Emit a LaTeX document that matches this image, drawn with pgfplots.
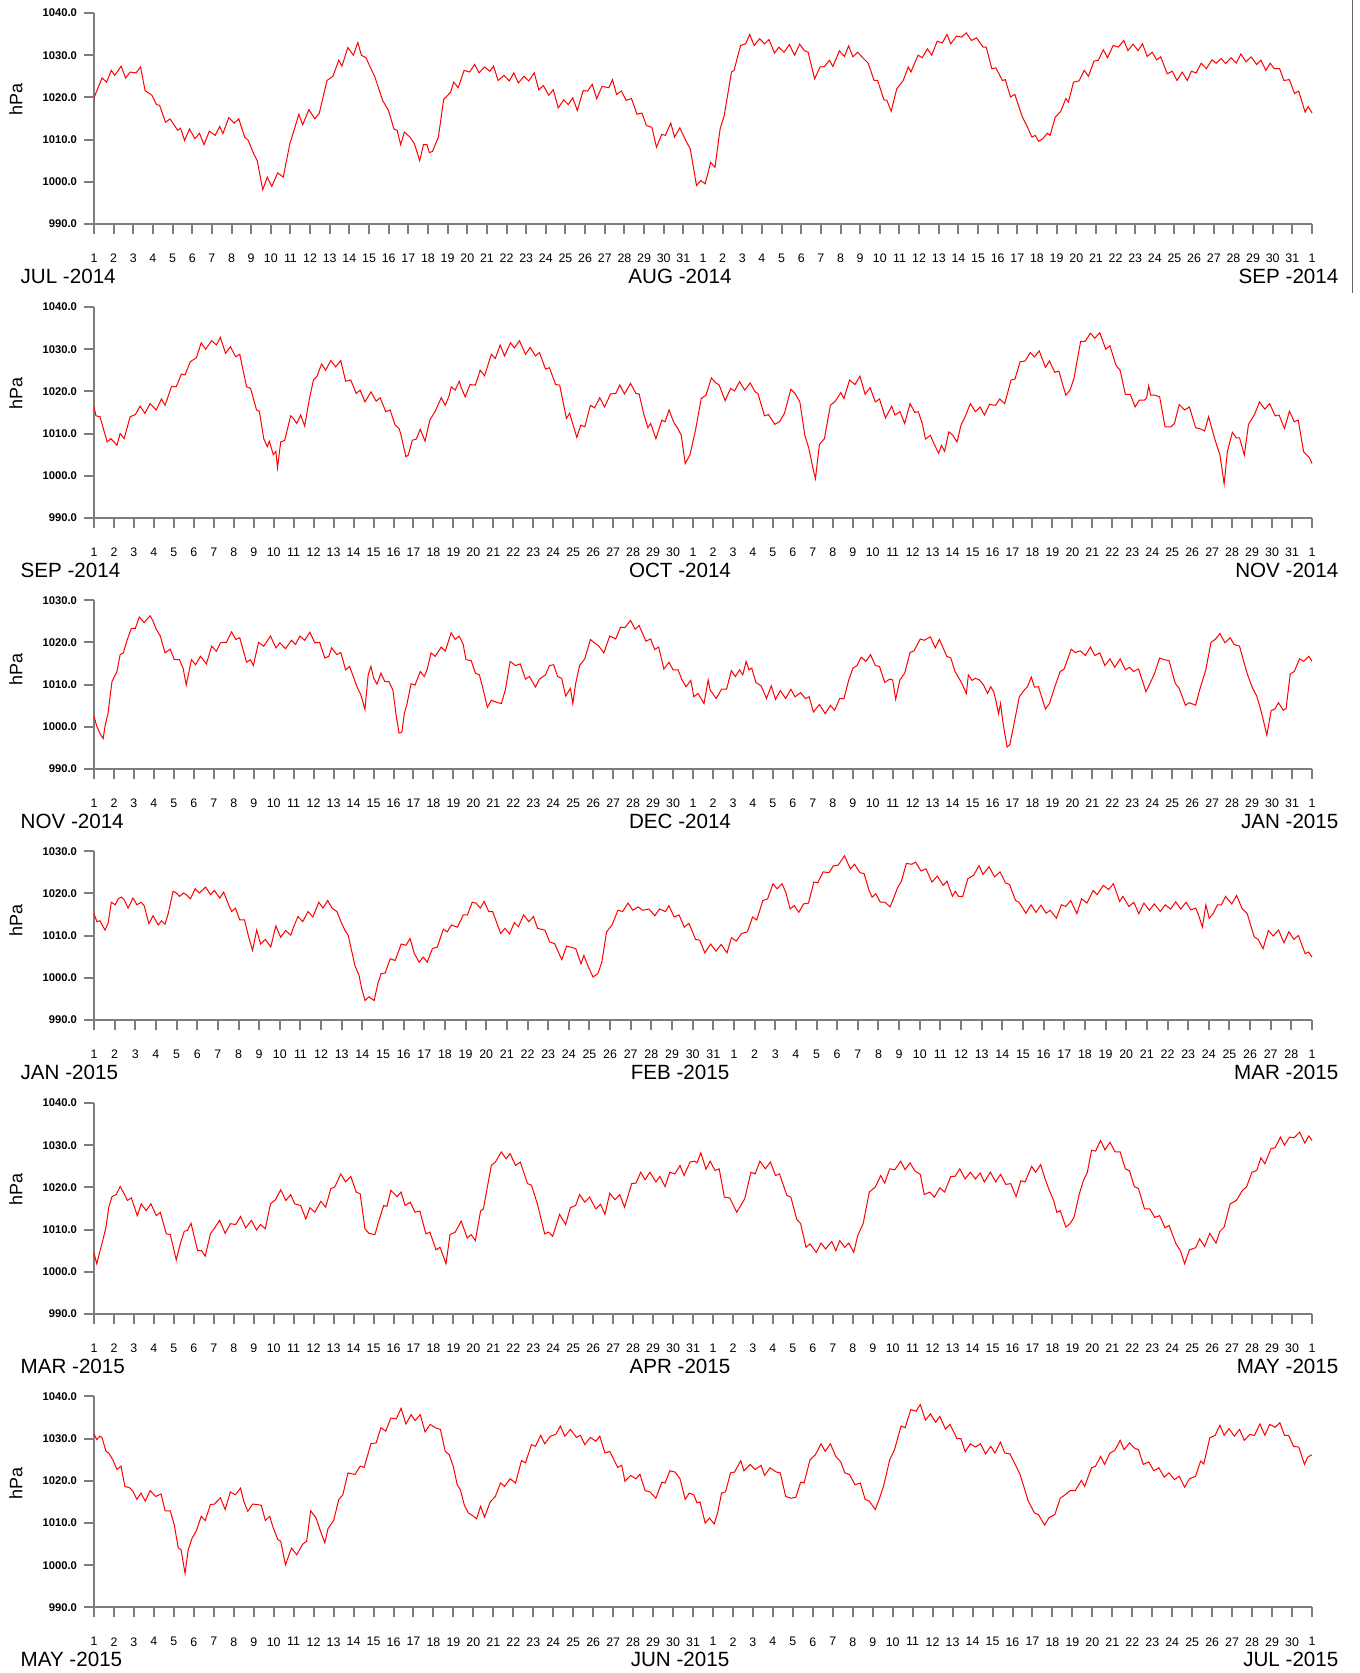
\documentclass[border=0pt]{standalone}
\usepackage{fontspec}
\setmainfont{Liberation Sans}
\usepackage{pgfplots}
\pgfplotsset{compat=1.18}
\definecolor{axgray}{RGB}{125,125,125}
\definecolor{trace}{RGB}{255,0,0}
\pgfplotsset{
  panel/.style={
    scale only axis,
    width=609pt,
    axis x line=bottom,
    axis y line=left,
    axis line style={-, draw=axgray, line width=1pt},
    every tick/.style={draw=axgray, line width=1pt},
    tick align=outside,
    major tick length=5pt,
    xmin=0,
    ymin=990,
    ytick distance=10,
    yticklabel style={font=\fontsize{5.6}{6}\selectfont\bfseries,
      /pgf/number format/fixed, /pgf/number format/fixed zerofill,
      /pgf/number format/precision=1, /pgf/number format/1000 sep={},
      /pgf/number format/assume math mode=true},
    xticklabel style={font=\fontsize{6.2}{7}\selectfont, yshift=-6.4pt},
    clip=false,
  },
  pdata/.style={draw=trace, line width=0.5pt, no markers},
}
\newcommand{\hpa}{\node[rotate=90, font=\fontsize{9}{10}\selectfont] at ([xshift=-39pt]rel axis cs:0,0.59) {hPa};}
\newcommand{\months}[3]{%
  \node[anchor=base west, font=\fontsize{10.3}{12}\selectfont] at ([xshift=-40.2pt,yshift=-29.6pt]rel axis cs:0,0) {#1};
  \node[anchor=base, font=\fontsize{10.3}{12}\selectfont] at ([xshift=293pt,yshift=-29.6pt]rel axis cs:0,0) {#2};
  \node[anchor=base east, font=\fontsize{10.3}{12}\selectfont] at ([xshift=625.7pt,yshift=-29.6pt]rel axis cs:0,0) {#3};}
\begin{document}
\begin{tikzpicture}
\useasboundingbox (0,0) rectangle (679.5pt,836.5pt);
\draw[draw=gray!80!black, line width=0.5pt] (676.3pt,836.5pt) -- (676.3pt,690pt);
% ---------------- Panel 1: JUL-AUG 2014
\begin{axis}[panel, at={(47pt,724.5pt)}, anchor=south west, height=105.5pt,
  xmax=62, ymax=1040, xtick={0,...,62},
  xticklabels={1,2,3,4,5,6,7,8,9,10,11,12,13,14,15,16,17,18,19,20,21,22,23,24,25,26,27,28,29,30,31,1,2,3,4,5,6,7,8,9,10,11,12,13,14,15,16,17,18,19,20,21,22,23,24,25,26,27,28,29,30,31,1}]
\addplot[pdata] coordinates {(0,1019.9)(0.41,1024.6)(0.64,1023.6)(0.88,1026.4)(1.06,1025.2)(1.38,1027.4)(1.61,1024.6)(1.84,1026.0)(2.14,1025.8)(2.37,1027.2)(2.60,1021.6)(2.95,1020.5)(3.18,1018.3)(3.34,1018.1)(3.64,1014.1)(3.87,1014.9)(4.26,1012.2)(4.40,1012.7)(4.61,1009.8)(4.86,1012.5)(5.14,1010.2)(5.37,1011.5)(5.60,1008.8)(5.87,1012.0)(6.17,1011.0)(6.40,1013.1)(6.56,1011.4)(6.86,1015.2)(7.14,1013.9)(7.37,1014.9)(7.67,1010.6)(7.85,1009.8)(8.13,1006.6)(8.31,1005.0)(8.59,998.1)(8.82,1001.1)(9.05,998.9)(9.35,1002.1)(9.63,1001.1)(9.97,1009.0)(10.43,1016.0)(10.62,1013.5)(10.94,1017.1)(11.24,1014.9)(11.47,1016.3)(11.86,1024.0)(12.16,1025.0)(12.46,1028.8)(12.62,1027.4)(12.92,1031.8)(13.20,1030.0)(13.43,1033.0)(13.61,1030.0)(13.84,1029.4)(14.30,1024.8)(14.69,1019.3)(14.99,1016.9)(15.27,1012.5)(15.43,1012.2)(15.61,1008.8)(15.80,1011.8)(16.08,1010.6)(16.31,1009.0)(16.58,1005.0)(16.77,1008.8)(16.95,1008.8)(17.07,1006.9)(17.23,1007.2)(17.53,1010.6)(17.80,1019.5)(18.15,1021.2)(18.31,1023.6)(18.54,1022.3)(18.84,1026.4)(19.12,1026.0)(19.37,1027.8)(19.60,1025.8)(19.88,1027.2)(20.15,1026.2)(20.34,1027.4)(20.57,1024.0)(20.87,1025.2)(21.14,1023.9)(21.37,1025.8)(21.60,1023.4)(21.88,1025.0)(22.13,1023.9)(22.41,1025.8)(22.64,1021.8)(22.87,1022.8)(23.15,1020.5)(23.38,1021.8)(23.63,1017.5)(23.91,1019.4)(24.14,1018.3)(24.37,1019.9)(24.60,1016.9)(24.90,1021.6)(25.13,1021.5)(25.36,1023.1)(25.59,1019.7)(25.86,1022.6)(26.21,1022.3)(26.39,1024.2)(26.60,1020.7)(26.85,1021.5)(27.08,1019.3)(27.36,1019.7)(27.64,1016.0)(27.89,1016.3)(28.12,1013.3)(28.40,1012.9)(28.63,1008.2)(28.90,1011.2)(29.08,1011.0)(29.36,1013.9)(29.55,1010.6)(29.82,1012.8)(30.12,1009.8)(30.35,1007.8)(30.67,999.1)(30.89,1000.3)(31.11,999.5)(31.39,1004.6)(31.61,1003.4)(31.87,1012.5)(32.08,1015.7)(32.45,1026.0)(32.58,1026.4)(32.91,1032.3)(33.17,1032.7)(33.38,1034.9)(33.60,1032.3)(33.88,1033.9)(34.14,1032.7)(34.36,1033.7)(34.64,1030.5)(34.86,1031.9)(35.12,1030.7)(35.40,1032.5)(35.66,1030.0)(35.92,1032.6)(36.16,1031.1)(36.35,1030.7)(36.68,1024.4)(36.96,1027.2)(37.18,1027.3)(37.44,1028.8)(37.61,1027.3)(37.94,1031.0)(38.20,1029.7)(38.41,1032.2)(38.63,1029.6)(38.87,1030.7)(39.13,1029.4)(39.41,1028.1)(39.71,1024.0)(39.89,1024.0)(40.21,1019.4)(40.36,1019.3)(40.58,1016.7)(40.86,1022.0)(41.19,1024.0)(41.45,1027.2)(41.58,1026.0)(41.95,1030.0)(42.16,1029.4)(42.42,1031.5)(42.64,1030.0)(42.92,1033.3)(43.18,1032.9)(43.42,1034.9)(43.61,1032.7)(43.90,1034.5)(44.16,1034.3)(44.40,1035.3)(44.66,1033.5)(44.92,1034.1)(45.26,1031.9)(45.42,1031.9)(45.70,1026.8)(45.91,1027.0)(46.24,1024.0)(46.39,1024.2)(46.65,1020.1)(46.87,1020.7)(47.26,1015.3)(47.48,1013.3)(47.74,1010.6)(47.91,1011.0)(48.08,1009.6)(48.30,1010.2)(48.52,1011.5)(48.67,1011.0)(48.93,1015.3)(49.21,1016.7)(49.47,1019.7)(49.60,1018.9)(49.86,1023.6)(50.14,1023.9)(50.40,1026.4)(50.62,1025.0)(50.90,1028.6)(51.12,1028.8)(51.38,1031.3)(51.59,1029.4)(51.88,1032.3)(52.14,1031.9)(52.42,1033.5)(52.63,1031.1)(52.89,1032.6)(53.15,1031.1)(53.37,1032.7)(53.61,1029.7)(53.87,1030.7)(54.09,1028.9)(54.30,1029.6)(54.63,1025.6)(54.89,1026.2)(55.13,1024.0)(55.39,1026.0)(55.65,1024.0)(55.86,1026.2)(56.10,1025.8)(56.36,1028.1)(56.62,1026.8)(56.91,1028.9)(57.12,1028.1)(57.38,1029.2)(57.60,1028.0)(57.88,1029.4)(58.14,1028.1)(58.38,1030.3)(58.64,1028.4)(58.90,1029.6)(59.18,1027.8)(59.40,1028.8)(59.65,1026.4)(59.87,1028.1)(60.08,1026.8)(60.35,1026.8)(60.57,1024.0)(60.85,1024.2)(61.11,1020.9)(61.32,1021.5)(61.65,1016.5)(61.80,1017.8)(62.0,1016.3)};
\hpa
\months{JUL -2014}{AUG -2014}{SEP -2014}
\end{axis}
% ---------------- Panel 2: SEP-OCT 2014
\begin{axis}[panel, at={(47pt,577.5pt)}, anchor=south west, height=105.5pt,
  xmax=61, ymax=1040, xtick={0,...,61},
  xticklabels={1,2,3,4,5,6,7,8,9,10,11,12,13,14,15,16,17,18,19,20,21,22,23,24,25,26,27,28,29,30,1,2,3,4,5,6,7,8,9,10,11,12,13,14,15,16,17,18,19,20,21,22,23,24,25,26,27,28,29,30,31,1}]
\addplot[pdata] coordinates {(0,1016.3)(0.10,1014.2)(0.30,1014.0)(0.66,1008.0)(0.84,1008.8)(1.01,1008.0)(1.15,1007.2)(1.31,1010.0)(1.51,1008.8)(1.81,1014.0)(2.07,1014.5)(2.31,1016.5)(2.55,1014.8)(2.81,1017.1)(3.12,1015.6)(3.38,1018.2)(3.56,1016.7)(3.88,1021.1)(4.12,1021.1)(4.38,1024.1)(4.56,1023.9)(4.82,1027.0)(5.13,1028.0)(5.37,1031.5)(5.59,1030.0)(5.89,1032.0)(6.13,1031.0)(6.33,1032.8)(6.59,1029.0)(6.83,1030.6)(7.10,1028.2)(7.30,1028.8)(7.64,1021.1)(7.84,1020.7)(8.14,1015.6)(8.28,1015.3)(8.50,1008.8)(8.68,1006.9)(8.78,1008.2)(8.98,1005.0)(9.11,1005.8)(9.19,1001.9)(9.35,1008.0)(9.55,1008.4)(9.85,1014.2)(9.99,1013.6)(10.15,1012.4)(10.35,1014.4)(10.55,1011.8)(10.79,1018.3)(10.99,1022.7)(11.16,1023.5)(11.40,1026.5)(11.60,1025.0)(11.86,1027.3)(12.10,1025.8)(12.36,1027.3)(12.60,1022.4)(12.86,1022.7)(13.13,1019.5)(13.33,1020.3)(13.57,1017.5)(13.87,1019.9)(14.13,1017.7)(14.33,1018.5)(14.61,1015.2)(14.83,1015.6)(15.08,1012.0)(15.28,1011.2)(15.38,1009.6)(15.62,1004.5)(15.74,1004.9)(15.94,1008.4)(16.14,1008.7)(16.34,1011.0)(16.58,1008.2)(16.82,1013.2)(17.09,1015.3)(17.39,1018.5)(17.59,1016.7)(17.79,1019.0)(17.89,1021.1)(18.09,1020.3)(18.29,1022.4)(18.39,1020.9)(18.59,1018.7)(18.83,1021.6)(19.10,1021.5)(19.34,1025.0)(19.56,1023.7)(19.90,1028.8)(20.10,1027.8)(20.34,1031.0)(20.56,1028.4)(20.86,1031.5)(21.05,1030.3)(21.31,1032.0)(21.61,1028.8)(21.85,1030.4)(22.11,1028.4)(22.31,1029.2)(22.61,1025.3)(22.81,1025.6)(23.12,1021.6)(23.32,1021.5)(23.66,1013.6)(23.82,1014.8)(24.18,1009.1)(24.38,1012.0)(24.58,1011.6)(24.86,1016.7)(25.07,1016.1)(25.33,1018.5)(25.57,1016.3)(25.87,1019.4)(26.13,1019.5)(26.33,1021.5)(26.57,1019.4)(26.87,1021.9)(27.14,1019.5)(27.30,1019.4)(27.54,1014.5)(27.74,1011.4)(27.88,1012.4)(28.14,1008.8)(28.44,1013.2)(28.60,1012.8)(28.80,1015.6)(29.04,1012.6)(29.24,1011.2)(29.41,1009.6)(29.61,1002.9)(29.85,1005.0)(30.14,1011.2)(30.41,1018.3)(30.65,1019.1)(30.92,1023.2)(31.12,1022.1)(31.31,1021.5)(31.61,1017.8)(31.88,1020.7)(32.08,1020.1)(32.33,1022.3)(32.59,1020.3)(32.86,1022.0)(33.11,1019.9)(33.25,1019.5)(33.58,1014.2)(33.78,1014.5)(34.09,1012.2)(34.33,1012.8)(34.58,1014.8)(34.90,1020.5)(35.11,1019.5)(35.35,1017.5)(35.60,1009.6)(35.80,1006.5)(36.01,1001.7)(36.13,999.3)(36.33,1007.4)(36.58,1008.8)(36.88,1016.7)(37.13,1017.7)(37.40,1019.7)(37.56,1018.3)(37.84,1022.7)(38.11,1021.6)(38.36,1023.6)(38.62,1019.3)(38.87,1020.9)(39.13,1017.5)(39.34,1018.2)(39.64,1013.7)(39.95,1016.5)(40.11,1014.4)(40.36,1015.2)(40.60,1012.4)(40.87,1017.1)(41.11,1015.0)(41.28,1015.2)(41.48,1012.4)(41.64,1008.7)(41.89,1009.6)(42.03,1008.0)(42.30,1005.3)(42.44,1007.2)(42.60,1005.8)(42.81,1010.4)(43.01,1009.6)(43.22,1008.0)(43.42,1012.0)(43.63,1014.0)(43.89,1017.1)(44.14,1015.2)(44.38,1016.3)(44.59,1014.4)(44.85,1016.9)(45.16,1016.7)(45.36,1018.2)(45.61,1017.1)(45.93,1022.7)(46.12,1022.9)(46.38,1027.0)(46.63,1027.2)(46.89,1029.2)(47.10,1028.2)(47.34,1029.6)(47.65,1025.7)(47.85,1027.2)(48.12,1024.5)(48.32,1024.8)(48.67,1019.1)(48.88,1020.3)(49.08,1023.1)(49.41,1031.8)(49.65,1031.9)(49.90,1033.8)(50.12,1032.6)(50.37,1033.9)(50.67,1030.0)(50.88,1030.8)(51.18,1026.2)(51.39,1025.0)(51.65,1019.3)(51.90,1019.3)(52.14,1016.3)(52.35,1017.9)(52.61,1017.9)(52.72,1018.5)(52.82,1021.3)(52.92,1019.1)(53.12,1019.1)(53.37,1018.7)(53.64,1011.6)(53.94,1011.6)(54.11,1012.4)(54.35,1016.9)(54.62,1015.6)(54.86,1016.3)(55.17,1011.4)(55.48,1011.0)(55.62,1010.6)(55.82,1014.0)(56.15,1008.4)(56.39,1004.9)(56.60,998.1)(56.76,1005.7)(57.01,1010.3)(57.21,1009.0)(57.37,1009.0)(57.61,1004.9)(57.82,1012.2)(58.12,1014.5)(58.37,1017.5)(58.64,1015.8)(58.88,1017.1)(59.15,1014.2)(59.35,1014.4)(59.62,1011.2)(59.87,1015.3)(60.11,1012.8)(60.31,1013.2)(60.58,1005.7)(60.88,1004.2)(61.0,1002.9)};
\hpa
\months{SEP -2014}{OCT -2014}{NOV -2014}
\end{axis}
% ---------------- Panel 3: NOV-DEC 2014
\begin{axis}[panel, at={(47pt,452pt)}, anchor=south west, height=84.4pt,
  xmax=61, ymax=1030, xtick={0,...,61},
  xticklabels={1,2,3,4,5,6,7,8,9,10,11,12,13,14,15,16,17,18,19,20,21,22,23,24,25,26,27,28,29,30,1,2,3,4,5,6,7,8,9,10,11,12,13,14,15,16,17,18,19,20,21,22,23,24,25,26,27,28,29,30,31,1}]
\addplot[pdata] coordinates {(0,1002.5)(0.14,1000.1)(0.30,998.4)(0.46,997.2)(0.56,1000.4)(0.70,1003.1)(0.90,1010.7)(1.15,1013.1)(1.31,1017.1)(1.47,1017.5)(1.67,1020.7)(1.87,1023.3)(2.07,1023.3)(2.27,1026.0)(2.51,1024.7)(2.81,1026.3)(2.95,1025.1)(3.12,1023.1)(3.32,1021.5)(3.56,1017.5)(3.82,1018.4)(4.02,1015.9)(4.28,1015.9)(4.46,1013.9)(4.62,1009.9)(4.88,1015.9)(5.09,1014.7)(5.33,1016.7)(5.63,1014.9)(5.89,1019.1)(6.13,1017.9)(6.33,1019.9)(6.63,1020.0)(6.89,1022.5)(7.10,1020.7)(7.30,1021.1)(7.64,1015.3)(7.84,1015.9)(7.98,1014.5)(8.24,1020.0)(8.50,1019.1)(8.84,1021.5)(9.11,1018.7)(9.31,1019.9)(9.59,1018.5)(9.89,1020.5)(10.09,1019.5)(10.31,1021.5)(10.55,1020.5)(10.81,1022.4)(11.06,1019.9)(11.30,1020.0)(11.56,1016.3)(11.76,1016.7)(11.90,1018.7)(12.16,1017.1)(12.36,1017.6)(12.60,1013.5)(12.80,1014.3)(13.17,1009.5)(13.37,1007.5)(13.57,1004.1)(13.73,1012.3)(13.87,1014.3)(14.01,1011.5)(14.17,1010.1)(14.37,1012.7)(14.57,1010.7)(14.77,1010.7)(14.97,1008.7)(15.14,1002.4)(15.28,998.5)(15.42,998.8)(15.54,1003.1)(15.68,1005.5)(15.88,1010.2)(16.08,1009.9)(16.34,1013.1)(16.54,1011.9)(16.68,1013.5)(16.88,1017.5)(17.09,1016.7)(17.39,1018.9)(17.59,1017.9)(17.89,1022.3)(18.09,1020.7)(18.29,1021.5)(18.49,1019.5)(18.63,1015.9)(18.89,1015.7)(19.10,1012.7)(19.30,1012.3)(19.50,1008.7)(19.70,1004.6)(19.90,1006.3)(20.10,1005.9)(20.40,1005.5)(20.60,1008.7)(20.84,1015.5)(21.11,1014.5)(21.35,1014.9)(21.61,1011.3)(21.81,1011.9)(22.11,1009.4)(22.31,1011.3)(22.61,1012.3)(22.81,1014.5)(23.02,1014.7)(23.22,1011.9)(23.42,1011.5)(23.62,1007.3)(23.86,1009.1)(23.98,1005.5)(24.12,1010.2)(24.32,1014.5)(24.58,1016.1)(24.86,1020.7)(25.03,1020.0)(25.27,1019.2)(25.53,1017.5)(25.83,1021.5)(26.13,1020.8)(26.37,1023.6)(26.59,1023.5)(26.87,1025.2)(27.10,1023.1)(27.30,1024.0)(27.64,1020.3)(27.88,1020.8)(28.08,1018.3)(28.28,1018.9)(28.54,1013.7)(28.80,1015.3)(29.00,1013.5)(29.25,1013.5)(29.45,1011.1)(29.65,1009.5)(29.89,1011.0)(30.04,1007.1)(30.25,1007.9)(30.55,1005.5)(30.76,1011.1)(30.86,1008.7)(31.16,1006.7)(31.43,1008.9)(31.68,1008.9)(31.92,1013.3)(32.12,1011.9)(32.33,1013.5)(32.49,1012.3)(32.66,1015.5)(32.80,1013.5)(32.94,1013.9)(33.15,1010.5)(33.41,1009.7)(33.68,1006.7)(33.92,1009.7)(34.13,1006.5)(34.37,1008.6)(34.64,1006.7)(34.90,1008.9)(35.11,1007.1)(35.39,1008.1)(35.62,1006.7)(35.82,1007.1)(36.03,1003.5)(36.33,1005.3)(36.62,1003.1)(36.88,1005.1)(37.09,1003.9)(37.35,1006.7)(37.56,1006.7)(37.80,1011.1)(38.01,1013.9)(38.21,1014.5)(38.42,1016.5)(38.66,1015.5)(38.89,1017.1)(39.13,1014.5)(39.34,1014.3)(39.60,1010.5)(39.85,1011.3)(40.00,1011.1)(40.15,1006.5)(40.36,1011.1)(40.60,1012.7)(40.87,1017.6)(41.07,1018.0)(41.38,1020.8)(41.58,1020.5)(41.89,1021.3)(42.13,1018.7)(42.34,1020.7)(42.71,1016.7)(42.91,1016.3)(43.12,1013.1)(43.42,1010.7)(43.69,1007.9)(43.79,1012.3)(43.97,1011.0)(44.14,1011.5)(44.34,1011.1)(44.55,1009.9)(44.75,1007.9)(44.91,1009.5)(45.06,1008.3)(45.20,1005.5)(45.30,1003.1)(45.40,1005.5)(45.53,1000.8)(45.73,995.2)(45.87,995.8)(46.08,1000.8)(46.34,1007.1)(46.59,1008.7)(46.75,1009.5)(46.94,1011.8)(47.10,1009.4)(47.30,1009.5)(47.65,1004.2)(47.85,1005.5)(48.12,1009.5)(48.39,1013.1)(48.59,1013.7)(48.94,1018.4)(49.14,1017.6)(49.39,1018.0)(49.65,1016.9)(49.90,1018.9)(50.12,1016.9)(50.37,1017.5)(50.63,1014.5)(50.88,1016.1)(51.12,1014.1)(51.39,1016.1)(51.65,1013.5)(51.86,1014.1)(52.06,1013.1)(52.31,1013.7)(52.55,1010.3)(52.68,1008.3)(52.88,1010.2)(53.12,1012.7)(53.37,1016.3)(53.59,1015.9)(53.84,1015.7)(54.15,1010.3)(54.35,1009.1)(54.66,1005.1)(54.86,1005.7)(55.17,1005.1)(55.37,1008.7)(55.68,1013.5)(55.94,1020.0)(56.15,1020.7)(56.39,1022.1)(56.64,1019.9)(56.90,1021.1)(57.10,1019.5)(57.37,1019.1)(57.72,1013.1)(57.99,1009.5)(58.23,1007.3)(58.44,1003.9)(58.60,1000.8)(58.74,998.0)(58.95,1003.8)(59.15,1004.3)(59.32,1005.7)(59.56,1003.9)(59.70,1004.3)(59.91,1012.5)(60.11,1013.1)(60.38,1016.1)(60.58,1015.5)(60.84,1016.7)(61.0,1015.5)};
\hpa
\months{NOV -2014}{DEC -2014}{JAN -2015}
\end{axis}
% ---------------- Panel 4: JAN-FEB 2015
\begin{axis}[panel, at={(47pt,326.5pt)}, anchor=south west, height=84.4pt,
  xmax=59, ymax=1030, xtick={0,...,59},
  xticklabels={1,2,3,4,5,6,7,8,9,10,11,12,13,14,15,16,17,18,19,20,21,22,23,24,25,26,27,28,29,30,31,1,2,3,4,5,6,7,8,9,10,11,12,13,14,15,16,17,18,19,20,21,22,23,24,25,26,27,28,1}]
\addplot[pdata] coordinates {(0,1015.2)(0.14,1013.3)(0.29,1013.5)(0.53,1011.3)(0.68,1012.9)(0.84,1017.9)(1.03,1017.3)(1.17,1018.7)(1.32,1019.1)(1.46,1018.5)(1.65,1016.5)(1.89,1018.9)(2.08,1017.3)(2.28,1017.9)(2.43,1017.1)(2.66,1012.8)(2.86,1014.7)(3.11,1012.5)(3.27,1013.5)(3.44,1012.7)(3.60,1015.3)(3.83,1020.5)(3.99,1020.1)(4.14,1019.3)(4.34,1020.1)(4.47,1019.7)(4.67,1018.7)(4.90,1021.1)(5.10,1020.1)(5.41,1021.5)(5.64,1019.7)(5.83,1020.7)(6.09,1018.9)(6.28,1020.3)(6.52,1017.3)(6.67,1015.7)(6.85,1016.5)(7.06,1013.7)(7.29,1013.7)(7.49,1009.7)(7.68,1006.5)(7.88,1011.3)(8.07,1008.0)(8.30,1009.1)(8.56,1007.3)(8.81,1012.3)(9.04,1009.6)(9.28,1011.2)(9.53,1010.1)(9.67,1012.1)(9.88,1014.5)(10.11,1013.3)(10.37,1015.7)(10.60,1014.4)(10.89,1017.9)(11.09,1016.5)(11.32,1018.3)(11.53,1016.5)(11.77,1015.7)(11.96,1013.3)(12.15,1011.3)(12.31,1010.1)(12.64,1002.9)(12.84,1000.5)(12.97,997.4)(13.13,994.6)(13.32,995.5)(13.57,994.6)(13.75,998.6)(13.91,1001.0)(14.10,1001.1)(14.35,1004.5)(14.59,1004.1)(14.88,1008.0)(15.11,1007.7)(15.31,1009.3)(15.52,1005.7)(15.75,1003.7)(15.95,1004.9)(16.14,1003.7)(16.39,1006.9)(16.63,1007.3)(16.92,1011.5)(17.11,1010.9)(17.31,1012.5)(17.60,1012.0)(17.89,1014.9)(18.09,1014.9)(18.32,1017.9)(18.51,1017.7)(18.71,1016.5)(18.90,1018.1)(19.12,1015.7)(19.31,1015.7)(19.70,1010.5)(19.90,1011.7)(20.13,1010.4)(20.36,1013.1)(20.56,1012.1)(20.81,1014.9)(21.06,1013.3)(21.29,1014.5)(21.49,1011.7)(21.84,1011.3)(22.07,1008.5)(22.31,1008.1)(22.66,1004.3)(22.89,1007.5)(23.14,1007.2)(23.34,1006.9)(23.59,1003.3)(23.73,1005.3)(23.92,1002.9)(24.17,1000.2)(24.41,1001.0)(24.60,1003.7)(24.83,1010.9)(25.09,1012.5)(25.38,1016.0)(25.61,1015.7)(25.87,1017.7)(26.10,1016.0)(26.35,1016.8)(26.59,1016.0)(26.88,1016.3)(27.17,1014.7)(27.39,1016.3)(27.68,1015.7)(27.85,1017.1)(28.10,1014.4)(28.34,1014.9)(28.59,1012.0)(28.82,1012.9)(29.14,1009.1)(29.34,1008.9)(29.59,1005.9)(29.87,1008.0)(30.13,1006.3)(30.38,1007.9)(30.66,1005.9)(30.88,1009.5)(31.11,1008.7)(31.37,1010.5)(31.65,1010.9)(31.90,1014.4)(32.10,1013.7)(32.40,1018.3)(32.63,1018.7)(32.89,1022.3)(33.09,1021.1)(33.33,1022.3)(33.52,1020.1)(33.72,1016.3)(33.92,1017.1)(34.14,1015.5)(34.37,1017.5)(34.61,1017.7)(34.87,1022.7)(35.06,1022.5)(35.32,1025.1)(35.60,1024.9)(35.81,1026.5)(36.05,1026.7)(36.35,1028.9)(36.64,1025.8)(36.84,1026.9)(37.10,1024.9)(37.30,1024.7)(37.53,1020.9)(37.69,1019.1)(37.87,1019.9)(38.09,1017.9)(38.32,1017.9)(38.56,1016.8)(38.72,1018.7)(38.92,1021.3)(39.11,1022.9)(39.35,1027.1)(39.61,1026.9)(39.80,1027.4)(40.06,1025.3)(40.30,1025.8)(40.59,1022.7)(40.85,1024.1)(41.13,1021.9)(41.32,1022.9)(41.58,1019.3)(41.72,1020.5)(41.88,1019.3)(42.08,1019.3)(42.33,1023.5)(42.61,1024.3)(42.87,1026.6)(43.06,1024.5)(43.36,1026.3)(43.62,1023.9)(43.89,1025.1)(44.15,1022.5)(44.35,1022.1)(44.64,1018.3)(44.80,1017.9)(44.94,1016.9)(45.14,1015.3)(45.39,1017.3)(45.63,1015.5)(45.87,1017.2)(46.12,1015.3)(46.32,1016.0)(46.62,1014.1)(46.86,1017.3)(47.07,1016.9)(47.31,1018.3)(47.61,1015.2)(47.84,1018.7)(48.10,1017.7)(48.40,1020.7)(48.59,1019.7)(48.89,1021.9)(49.15,1020.9)(49.38,1022.3)(49.68,1018.1)(49.84,1019.3)(50.13,1016.9)(50.37,1017.9)(50.61,1015.2)(50.86,1017.7)(51.12,1016.0)(51.36,1017.5)(51.65,1015.7)(51.89,1017.3)(52.15,1016.3)(52.40,1018.0)(52.64,1016.3)(52.90,1017.9)(53.13,1016.1)(53.37,1016.5)(53.53,1014.5)(53.69,1012.0)(53.86,1017.3)(54.02,1014.1)(54.22,1015.3)(54.42,1017.3)(54.61,1017.3)(54.81,1019.3)(55.11,1017.5)(55.35,1019.5)(55.60,1016.5)(55.86,1015.2)(56.20,1009.7)(56.39,1009.1)(56.63,1006.9)(56.89,1011.2)(57.12,1009.9)(57.38,1011.3)(57.64,1008.3)(57.88,1010.9)(58.12,1009.1)(58.34,1010.0)(58.67,1005.7)(58.83,1006.1)(59.0,1004.9)};
\hpa
\months{JAN -2015}{FEB -2015}{MAR -2015}
\end{axis}
% ---------------- Panel 5: MAR-APR 2015
\begin{axis}[panel, at={(47pt,179.5pt)}, anchor=south west, height=105.5pt,
  xmax=61, ymax=1040, xtick={0,...,61},
  xticklabels={1,2,3,4,5,6,7,8,9,10,11,12,13,14,15,16,17,18,19,20,21,22,23,24,25,26,27,28,29,30,31,1,2,3,4,5,6,7,8,9,10,11,12,13,14,15,16,17,18,19,20,21,22,23,24,25,26,27,28,29,30,1}]
\addplot[pdata] coordinates {(0,1004.4)(0.14,1001.9)(0.30,1004.9)(0.46,1007.8)(0.60,1010.6)(0.74,1015.3)(0.90,1017.8)(1.11,1018.3)(1.31,1020.2)(1.51,1018.5)(1.67,1016.9)(1.87,1017.5)(2.17,1013.3)(2.37,1016.1)(2.61,1014.5)(2.85,1016.1)(3.12,1013.3)(3.32,1014.1)(3.62,1009.0)(3.82,1008.8)(4.12,1002.8)(4.32,1006.6)(4.52,1009.6)(4.68,1009.8)(4.86,1011.5)(5.19,1005.0)(5.39,1005.0)(5.57,1003.7)(5.83,1009.0)(6.07,1010.6)(6.29,1012.2)(6.57,1009.1)(6.83,1011.4)(7.10,1011.2)(7.34,1013.1)(7.60,1010.4)(7.88,1012.2)(8.14,1009.9)(8.34,1011.2)(8.58,1010.2)(8.84,1016.1)(9.09,1017.1)(9.35,1019.4)(9.61,1016.9)(9.85,1018.3)(10.05,1016.1)(10.35,1015.7)(10.61,1012.5)(10.81,1015.2)(11.06,1014.1)(11.36,1016.7)(11.60,1015.3)(11.86,1019.7)(12.06,1020.1)(12.36,1023.2)(12.60,1021.3)(12.86,1022.6)(13.13,1018.9)(13.33,1018.5)(13.57,1010.2)(13.77,1009.1)(14.07,1008.8)(14.27,1012.2)(14.51,1015.7)(14.67,1015.5)(14.87,1019.3)(15.18,1017.8)(15.38,1018.9)(15.58,1015.7)(15.84,1016.5)(16.08,1014.1)(16.32,1014.4)(16.62,1009.0)(16.82,1009.4)(17.13,1005.2)(17.33,1005.8)(17.63,1001.9)(17.83,1008.8)(18.09,1009.4)(18.39,1012.0)(18.69,1008.0)(18.89,1008.8)(19.10,1007.4)(19.36,1014.4)(19.50,1014.9)(19.70,1020.1)(19.90,1025.2)(20.10,1026.0)(20.40,1028.4)(20.64,1026.8)(20.84,1028.0)(21.11,1025.2)(21.35,1026.0)(21.71,1020.9)(21.91,1020.5)(22.21,1016.0)(22.57,1009.0)(22.77,1009.4)(22.97,1008.4)(23.32,1013.6)(23.62,1011.2)(23.86,1015.2)(24.12,1015.7)(24.32,1018.3)(24.58,1016.5)(24.82,1017.7)(25.13,1014.9)(25.37,1016.0)(25.59,1013.6)(25.83,1018.6)(26.09,1017.1)(26.33,1018.3)(26.57,1015.3)(26.93,1020.9)(27.14,1021.0)(27.38,1023.6)(27.60,1021.8)(27.84,1023.6)(28.14,1021.3)(28.34,1022.6)(28.60,1020.2)(28.84,1023.6)(29.09,1023.2)(29.35,1025.2)(29.55,1022.8)(29.85,1026.0)(30.08,1026.2)(30.20,1025.8)(30.39,1028.2)(30.65,1024.3)(30.86,1026.2)(31.10,1024.0)(31.31,1024.4)(31.57,1017.7)(31.84,1017.5)(32.19,1014.1)(32.39,1015.7)(32.59,1017.3)(32.90,1023.6)(33.11,1023.2)(33.35,1026.2)(33.62,1024.4)(33.88,1026.0)(34.13,1022.8)(34.33,1023.2)(34.70,1018.1)(34.90,1017.7)(35.19,1012.5)(35.39,1011.4)(35.66,1005.8)(35.86,1006.6)(36.17,1004.6)(36.41,1006.8)(36.64,1005.4)(36.95,1007.2)(37.15,1005.0)(37.35,1007.4)(37.60,1005.8)(37.80,1006.8)(38.05,1004.6)(38.25,1008.6)(38.52,1011.4)(38.83,1018.9)(39.13,1020.1)(39.40,1022.8)(39.60,1021.0)(39.85,1024.4)(40.11,1024.2)(40.40,1026.2)(40.62,1024.2)(40.87,1025.8)(41.11,1023.9)(41.38,1023.1)(41.58,1018.3)(41.85,1018.9)(42.09,1017.7)(42.36,1019.9)(42.60,1018.9)(42.91,1022.6)(43.12,1022.6)(43.36,1024.4)(43.63,1022.0)(43.89,1023.6)(44.14,1022.0)(44.38,1023.4)(44.59,1021.3)(44.89,1023.6)(45.16,1021.3)(45.40,1023.1)(45.67,1020.7)(45.91,1020.9)(46.18,1017.8)(46.42,1021.6)(46.63,1021.3)(46.96,1025.0)(47.16,1023.6)(47.41,1025.4)(47.61,1022.3)(47.81,1019.7)(48.06,1016.9)(48.22,1014.1)(48.39,1014.5)(48.67,1010.6)(48.88,1011.4)(49.08,1012.9)(49.35,1018.5)(49.55,1021.6)(49.75,1023.6)(49.96,1028.8)(50.16,1028.6)(50.41,1031.1)(50.63,1028.9)(50.88,1030.7)(51.14,1028.4)(51.39,1028.4)(51.65,1024.4)(51.86,1023.9)(52.10,1020.2)(52.31,1019.7)(52.61,1014.9)(52.88,1014.9)(53.12,1012.9)(53.37,1013.3)(53.64,1010.4)(53.84,1011.0)(54.19,1006.6)(54.41,1005.0)(54.62,1001.9)(54.86,1005.2)(55.17,1005.7)(55.37,1007.8)(55.62,1006.0)(55.88,1009.1)(56.19,1006.8)(56.39,1009.6)(56.60,1010.6)(56.90,1016.1)(57.21,1016.9)(57.52,1019.3)(57.72,1020.1)(57.99,1023.6)(58.23,1024.0)(58.44,1027.0)(58.64,1025.6)(58.95,1029.2)(59.15,1029.4)(59.42,1031.9)(59.62,1030.0)(59.87,1031.9)(60.11,1031.8)(60.38,1033.1)(60.64,1030.5)(60.84,1032.2)(61.0,1031.1)};
\hpa
\months{MAR -2015}{APR -2015}{MAY -2015}
\end{axis}
% ---------------- Panel 6: MAY-JUN 2015
\begin{axis}[panel, at={(47pt,32.75pt)}, anchor=south west, height=105.5pt,
  xmax=61, ymax=1040, xtick={0,...,61},
  xticklabels={1,2,3,4,5,6,7,8,9,10,11,12,13,14,15,16,17,18,19,20,21,22,23,24,25,26,27,28,29,30,31,1,2,3,4,5,6,7,8,9,10,11,12,13,14,15,16,17,18,19,20,21,22,23,24,25,26,27,28,29,30,1}]
\addplot[pdata] coordinates {(0,1031.1)(0.14,1029.8)(0.30,1030.6)(0.40,1030.3)(0.60,1027.0)(0.74,1026.6)(0.94,1025.0)(1.15,1022.7)(1.35,1023.5)(1.55,1018.7)(1.81,1018.3)(1.95,1017.5)(2.15,1015.6)(2.35,1017.1)(2.57,1015.2)(2.81,1017.7)(3.08,1016.3)(3.36,1016.9)(3.56,1012.9)(3.82,1012.9)(4.02,1009.6)(4.22,1004.1)(4.36,1003.7)(4.56,998.1)(4.72,1003.7)(4.92,1006.5)(5.13,1008.2)(5.37,1011.6)(5.57,1010.6)(5.83,1014.4)(6.03,1014.5)(6.33,1016.0)(6.57,1013.2)(6.83,1017.4)(7.08,1016.7)(7.34,1018.3)(7.50,1015.2)(7.70,1012.8)(7.94,1014.5)(8.18,1014.4)(8.38,1014.2)(8.58,1010.6)(8.80,1011.6)(8.98,1008.8)(9.21,1006.1)(9.35,1005.7)(9.59,1000.1)(9.89,1004.1)(10.15,1002.5)(10.45,1005.0)(10.65,1005.7)(10.85,1012.9)(11.12,1011.2)(11.32,1008.4)(11.56,1005.3)(11.72,1008.7)(12.00,1010.6)(12.26,1015.6)(12.46,1016.7)(12.72,1021.9)(13.07,1021.5)(13.33,1023.5)(13.53,1023.2)(13.87,1028.8)(14.13,1029.0)(14.37,1032.6)(14.61,1031.8)(14.87,1034.9)(15.14,1034.7)(15.38,1037.2)(15.62,1033.5)(15.88,1035.7)(16.08,1034.3)(16.34,1035.7)(16.58,1031.6)(16.84,1033.4)(17.09,1032.6)(17.35,1032.2)(17.59,1027.0)(17.79,1026.2)(17.99,1023.5)(18.19,1019.1)(18.35,1017.9)(18.55,1014.2)(18.75,1012.4)(18.95,1011.8)(19.16,1011.0)(19.36,1014.0)(19.56,1011.4)(19.84,1015.0)(20.10,1016.3)(20.36,1019.5)(20.56,1018.7)(20.84,1020.5)(21.11,1019.5)(21.41,1024.8)(21.61,1024.3)(21.91,1028.6)(22.11,1028.2)(22.37,1030.8)(22.57,1028.8)(22.86,1030.6)(23.12,1031.0)(23.36,1033.0)(23.58,1030.6)(23.86,1032.2)(24.16,1030.3)(24.36,1030.8)(24.58,1028.6)(24.86,1030.3)(25.13,1029.4)(25.33,1030.6)(25.59,1026.6)(25.83,1027.0)(26.23,1023.2)(26.43,1023.7)(26.59,1019.9)(26.87,1021.3)(27.14,1020.5)(27.34,1021.6)(27.60,1017.7)(27.84,1017.4)(28.14,1015.9)(28.44,1019.7)(28.60,1019.5)(28.84,1022.4)(29.09,1022.1)(29.35,1020.5)(29.61,1015.6)(29.81,1017.1)(30.04,1016.7)(30.20,1014.8)(30.35,1015.0)(30.61,1010.0)(30.82,1011.2)(31.06,1009.8)(31.23,1012.4)(31.43,1017.1)(31.63,1017.4)(31.88,1021.9)(32.08,1022.1)(32.39,1024.8)(32.55,1022.4)(32.86,1023.9)(33.11,1022.7)(33.41,1023.7)(33.58,1021.3)(33.86,1023.1)(34.17,1022.1)(34.37,1021.9)(34.64,1016.3)(34.90,1015.9)(35.15,1016.1)(35.39,1019.7)(35.56,1019.5)(35.86,1025.0)(36.13,1026.2)(36.41,1028.8)(36.62,1027.0)(36.88,1028.8)(37.15,1025.8)(37.40,1024.5)(37.60,1021.9)(37.84,1021.5)(38.11,1019.1)(38.38,1019.5)(38.62,1015.6)(38.83,1015.2)(39.13,1013.2)(39.34,1015.9)(39.54,1018.7)(39.85,1025.0)(40.09,1027.4)(40.42,1033.0)(40.62,1032.6)(40.91,1036.9)(41.17,1036.5)(41.38,1038.1)(41.64,1034.4)(41.89,1035.9)(42.15,1033.9)(42.36,1035.3)(42.64,1032.3)(42.87,1033.4)(43.22,1030.0)(43.42,1030.0)(43.63,1026.9)(43.89,1028.8)(44.14,1028.0)(44.40,1028.8)(44.65,1026.4)(44.91,1028.2)(45.12,1026.6)(45.40,1029.2)(45.61,1026.6)(45.87,1026.4)(46.18,1023.5)(46.38,1021.5)(46.59,1018.3)(46.79,1015.2)(47.10,1012.4)(47.30,1012.0)(47.61,1009.5)(47.81,1011.2)(48.12,1012.0)(48.39,1015.9)(48.63,1016.7)(48.88,1017.7)(49.14,1017.7)(49.45,1020.1)(49.61,1018.7)(49.96,1023.1)(50.16,1023.5)(50.41,1025.8)(50.61,1023.9)(50.88,1026.6)(51.12,1027.2)(51.39,1029.6)(51.59,1027.4)(51.86,1029.0)(52.10,1027.8)(52.31,1027.4)(52.55,1023.9)(52.82,1024.5)(53.08,1022.4)(53.33,1023.1)(53.60,1020.9)(53.84,1021.9)(54.11,1020.3)(54.35,1021.1)(54.62,1018.5)(54.86,1020.5)(55.17,1021.1)(55.42,1024.7)(55.58,1024.0)(55.88,1030.2)(56.15,1030.8)(56.39,1033.2)(56.60,1030.8)(56.84,1032.4)(57.11,1030.6)(57.37,1032.2)(57.61,1029.6)(57.88,1031.0)(58.12,1030.8)(58.39,1033.5)(58.64,1030.8)(58.88,1033.4)(59.15,1032.7)(59.39,1033.8)(59.62,1030.8)(59.83,1030.8)(60.07,1028.2)(60.34,1028.0)(60.62,1023.9)(60.78,1025.6)(60.99,1026.2)};
\hpa
\months{MAY -2015}{JUN -2015}{JUL -2015}
\end{axis}
\end{tikzpicture}
\end{document}
